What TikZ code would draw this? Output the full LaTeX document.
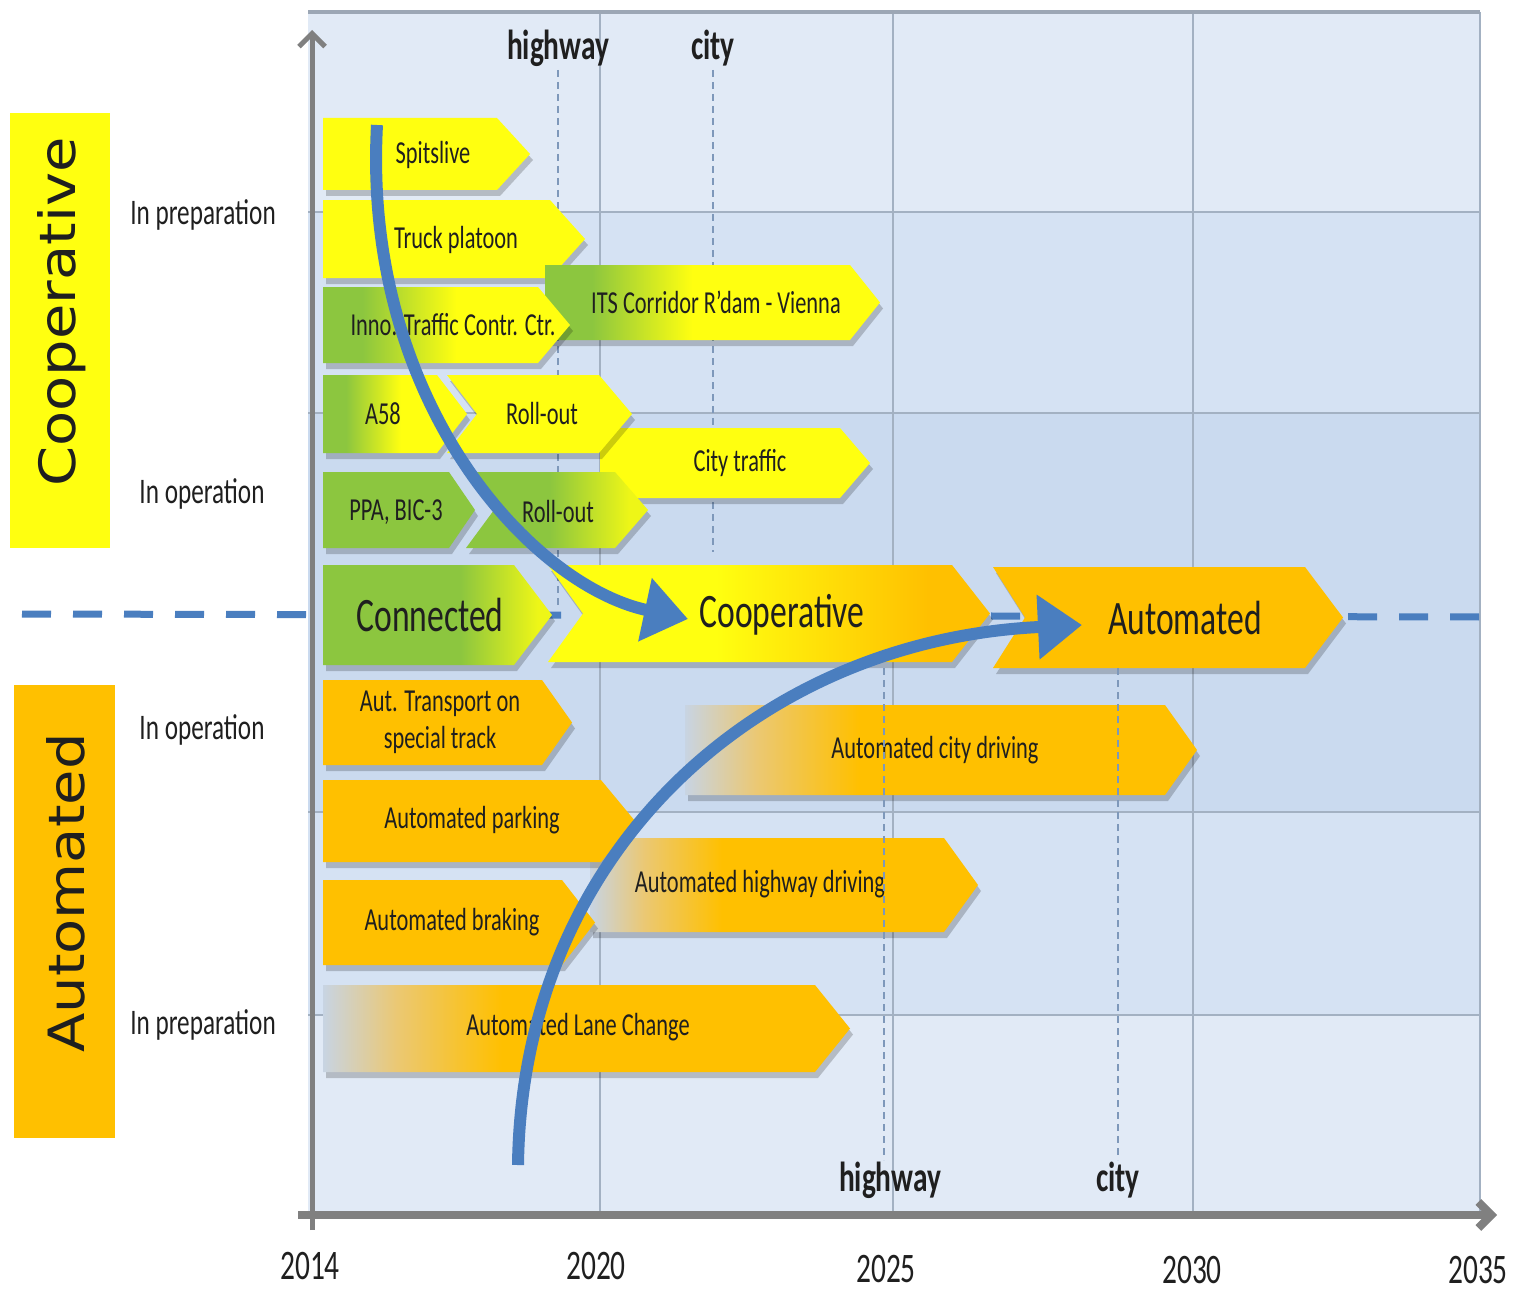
\documentclass[tikz,border=0pt]{standalone}
\usepackage{fontspec}
\setmainfont{Carlito}[FakeStretch=0.7]
\newfontfamily\vlabelfont{DejaVu Sans}[FakeStretch=1.15]
\usetikzlibrary{arrows.meta}
\definecolor{cyel}{HTML}{FFFF10}
\definecolor{cgrn}{HTML}{8CC63F}
\definecolor{corg}{HTML}{FFC000}
\definecolor{ctan}{HTML}{EBC873}
\definecolor{cfade}{HTML}{C8D4E3}
\colorlet{cgy}{cyel!85!cgrn}
\definecolor{bgA}{HTML}{E1EAF6}
\definecolor{bgB}{HTML}{D5E2F3}
\definecolor{bgC}{HTML}{CADAEF}
\definecolor{gridc}{HTML}{A3B1C2}
\definecolor{axisc}{HTML}{808080}
\definecolor{arrowb}{HTML}{4A7EBF}
\definecolor{dashb}{HTML}{7E98BA}
\definecolor{txt}{HTML}{1F1F1F}
\pgfdeclarehorizontalshading{shGY}{100bp}{color(0bp)=(cgrn); color(33bp)=(cgrn); color(52bp)=(cyel); color(100bp)=(cyel)}
\pgfdeclarehorizontalshading{shITS}{100bp}{color(0bp)=(cgrn); color(32bp)=(cgrn); color(47bp)=(cyel); color(100bp)=(cyel)}
\pgfdeclarehorizontalshading{shCON}{100bp}{color(0bp)=(cgrn); color(55bp)=(cgrn); color(72bp)=(cgy); color(100bp)=(cgy)}
\pgfdeclarehorizontalshading{shROLL}{100bp}{color(0bp)=(cgrn); color(48bp)=(cgrn); color(70bp)=(cgy); color(100bp)=(cgy)}
\pgfdeclarehorizontalshading{shYO}{100bp}{color(0bp)=(cyel); color(44bp)=(cyel); color(68bp)=(corg); color(100bp)=(corg)}
\pgfdeclarehorizontalshading{shFADE}{100bp}{color(0bp)=(cfade); color(25bp)=(cfade); color(32bp)=(ctan); color(42bp)=(corg); color(100bp)=(corg)}
% #1 style, #2 x1, #3 y1, #4 x2, #5 y2, #6 notch depth, #7 tip depth
\newcommand\chev[7]{%
  \fill[black,opacity=.2] ({#2+3},{#3+6}) -- ({#4-#7+3},{#3+6}) -- ({#4+3},{(#3+#5)/2+6}) -- ({#4-#7+3},{#5+6}) -- ({#2+3},{#5+6}) -- ({#2+#6+3},{(#3+#5)/2+6}) -- cycle;
  \path[#1] (#2,#3) -- ({#4-#7},#3) -- (#4,{(#3+#5)/2}) -- ({#4-#7},#5) -- (#2,#5) -- ({#2+#6},{(#3+#5)/2}) -- cycle;}
\tikzset{
  boxtext/.style={font=\fontsize{32}{37}\selectfont, text=txt, inner sep=0pt, align=center},
  bigtext/.style={font=\fontsize{48}{54}\selectfont, text=txt, inner sep=0pt},
  sidetext/.style={font=\fontsize{36}{40}\selectfont, text=txt, inner sep=0pt},
  yeartext/.style={font=\fontsize{42}{46}\selectfont, text=txt, inner sep=0pt},
  marktext/.style={font=\bfseries\fontsize{42}{46}\selectfont, text=txt, inner sep=0pt},
  vlabel/.style={rotate=90, font=\vlabelfont\fontsize{50}{56}\selectfont, text=txt, inner sep=0pt},
  gridline/.style={draw=gridc, line width=1.5},
  vdash/.style={draw=dashb, line width=1.6, dash pattern=on 7 off 5},
  axisline/.style={draw=axisc, line width=5, -{Straight Barb[length=13pt,width=26pt]}},
  bluearrow/.style={draw=arrowb, line width=12, -{Triangle[length=44pt,width=62pt]}},
  hdash/.style={draw=arrowb, line width=7, dash pattern=on 29 off 22},
}
\begin{document}
\begin{tikzpicture}[x=1pt,y=-1pt]
\useasboundingbox (0,0) rectangle (1514,1292);
\fill[white] (0,0) rectangle (1514,1292);
% background bands
\fill[bgA] (308,12) rectangle (1480,212);
\fill[bgB] (308,212) rectangle (1480,413);
\fill[bgC] (308,413) rectangle (1480,812);
\fill[bgB] (308,812) rectangle (1480,1015);
\fill[bgA] (308,1015) rectangle (1480,1215);
% grid
\foreach \yy in {212,413,812,1015} \draw[gridline] (308,\yy) -- (1480,\yy);
\foreach \xx in {600,893,1193} \draw[gridline, line width=1.2] (\xx,12) -- (\xx,1215);
\draw[gridline, line width=2] (1480,12) -- (1480,1215);
\draw[draw=gridc!80!gray, line width=3.5] (308,12) -- (1480,12);
% top dashed markers (behind boxes)
\draw[vdash] (558,70) -- (558,605);
\draw[vdash] (713,70) -- (713,552);
% horizontal dashed line
\draw[hdash] (22,614) -- (1482,617);
% ---- boxes ----
\chev{fill=cyel}{323}{118}{530}{190}{0}{33}
\node[boxtext] (spits) at (433,155) {Spitslive};
\chev{fill=cyel}{323}{200}{585}{278}{0}{35}
\node[boxtext] (truck) at (456,240) {Truck platoon};
\chev{shading=shITS}{545}{265}{880}{340}{0}{30}
\node[boxtext] (its) at (716,302) {ITS Corridor R’dam - Vienna};
\chev{shading=shGY}{323}{287}{570}{363}{0}{32}
\node[boxtext] (inno) at (453,325) {Inno. Traffic Contr. Ctr.};
\chev{fill=cyel}{600}{428}{870}{498}{0}{30}
\node[boxtext] (cityt) at (740,463) {City traffic};
\chev{shading=shGY}{323}{375}{467}{453}{0}{30}
\node[boxtext] (a58) at (383,414) {A58};
\chev{fill=cyel}{447}{375}{632}{453}{30}{33}
\node[boxtext] (roll1) at (542,414) {Roll-out};
\chev{fill=cgrn}{323}{472}{475}{548}{0}{26}
\node[boxtext] (ppa) at (396,512) {PPA, BIC-3};
\chev{shading=shROLL}{466}{472}{648}{548}{28}{33}
\node[boxtext] (roll2) at (558,512) {Roll-out};
% main row
\chev{shading=shYO}{548}{565}{990}{662}{35}{38}
\chev{fill=corg}{993}{567}{1343}{668}{32}{38}
\chev{shading=shCON}{323}{565}{552}{665}{0}{38}
\node[bigtext] (conn) at (430,615) {Connected};
\node[bigtext] (coop) at (782,615) {Cooperative};
\node[bigtext] (auto) at (1185,618) {Automated};
% automated rows
\chev{fill=corg}{323}{680}{572}{765}{0}{30}
\node[boxtext] (trans) at (440,722) {Aut. Transport on\\special track};
\chev{shading=shFADE}{685}{705}{1197}{795}{0}{32}
\node[boxtext] (cityd) at (935,750) {Automated city driving};
\chev{shading=shFADE}{590}{838}{978}{932}{0}{34}
\node[boxtext] (hwyd) at (760,884) {Automated highway driving};
\chev{fill=corg}{323}{780}{635}{862}{0}{34}
\node[boxtext] (park) at (472,820) {Automated parking};
\chev{fill=corg}{323}{880}{595}{965}{0}{33}
\node[boxtext] (brake) at (452,922) {Automated braking};
\chev{shading=shFADE}{323}{985}{850}{1072}{0}{35}
\node[boxtext] (lane) at (578,1027) {Automated Lane Change};
% bottom dashed markers (over boxes)
\draw[vdash] (884,668) -- (884,1160);
\draw[vdash] (1118,668) -- (1118,1160);
% axes
\draw[axisline] (312,1230) -- (312,30);
\draw[axisline, line width=8] (298,1215) -- (1497,1215);
% marker labels
\node[marktext] (hwtop) at (558,48) {highway};
\node[marktext] (citytop) at (713,48) {city};
\node[marktext] (hwbot) at (890,1180) {highway};
\node[marktext] (citybot) at (1118,1180) {city};
% years
\node[yeartext] (y14) at (310,1266) {2014};
\node[yeartext] (y20) at (596,1266) {2020};
\node[yeartext] (y25) at (886,1269) {2025};
\node[yeartext] (y30) at (1192,1270) {2030};
\node[yeartext] (y35) at (1478,1270) {2035};
% side labels
\fill[cyel] (10,113) rectangle (110,548);
\node[vlabel] (lcoop) at (62,312) {Cooperative};
\fill[corg] (14,685) rectangle (115,1138);
\node[vlabel] (lauto) at (66,893) {Automated};
\node[sidetext] (p1) at (203,215) {In preparation};
\node[sidetext] (o1) at (202,494) {In operation};
\node[sidetext] (o2) at (202,730) {In operation};
\node[sidetext] (p2) at (203,1025) {In preparation};
% blue arrows
\coordinate (a1s) at (377,125);
\coordinate (a1e) at (688,619);
\draw[bluearrow] (a1s) .. controls (362,400) and (530,585) .. (a1e);
\coordinate (a2s) at (518,1165);
\coordinate (a2e) at (1082,625);
\draw[bluearrow] (a2s) .. controls (522,850) and (760,640) .. (a2e);
\end{tikzpicture}
\end{document}
